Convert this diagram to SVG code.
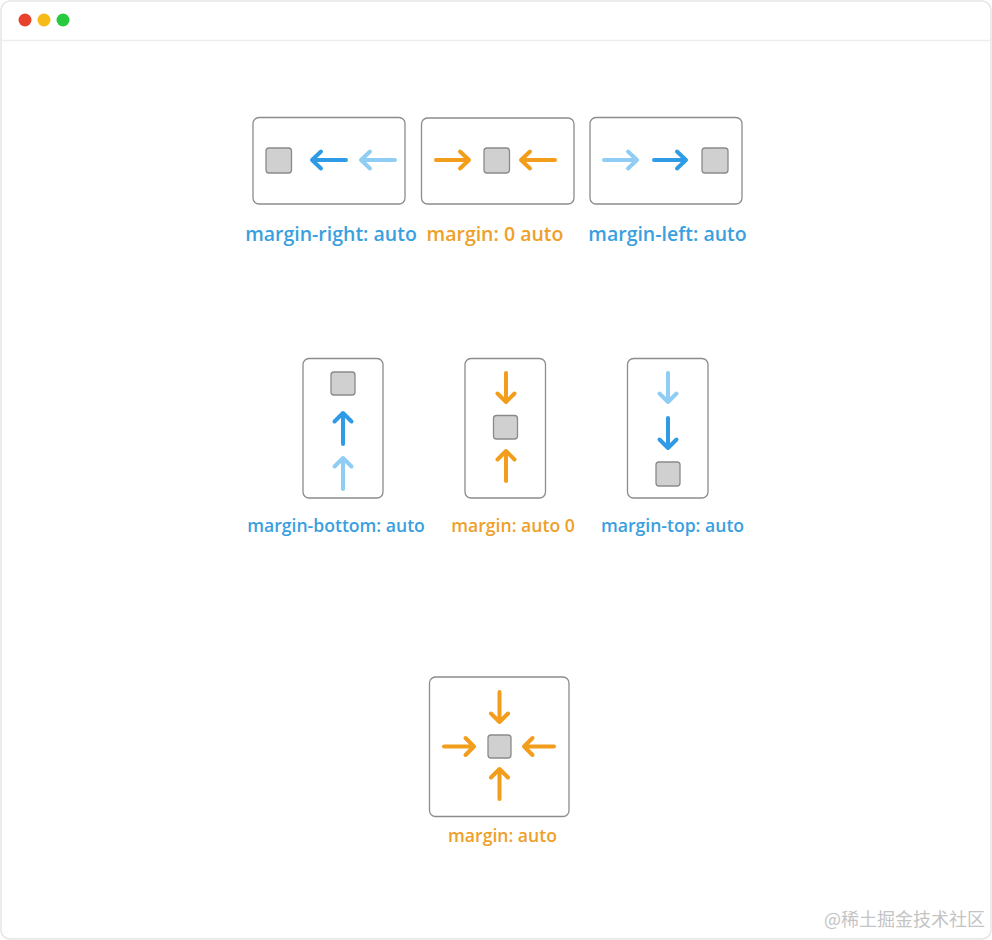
<svg xmlns="http://www.w3.org/2000/svg" width="992" height="940" viewBox="0 0 992 940">
<style>
.frame{fill:#ffffff;stroke:#e6e6e6;stroke-width:1.5}
.box{fill:#ffffff;stroke:#8c8c8c;stroke-width:1.3}
.sq{fill:#d0d0d0;stroke:#8a8a8a;stroke-width:1.3}
.ar{fill:none;stroke-width:4;stroke-linecap:round;stroke-linejoin:round}
.db{stroke:#2f9be6}
.lb{stroke:#8fcdf5}
.or{stroke:#f29d1b}
.lbl{font-family:"Open Sans",Lato,"Liberation Sans",sans-serif;font-size:19.5px;font-weight:600;text-anchor:middle}
.sm{font-size:17.6px}
.tb{fill:#3a9fe0}
.to{fill:#eea029}
</style>
<rect class="frame" x="1" y="1" width="990" height="938" rx="9"/>
<line x1="1.5" y1="40.5" x2="990.5" y2="40.5" stroke="#eeeeee" stroke-width="1.5"/>
<g id="window-dots">
<circle cx="25" cy="20" r="6.5" fill="#e8412c"/>
<circle cx="44" cy="20" r="6.5" fill="#f6bb17"/>
<circle cx="63" cy="20" r="6.5" fill="#27c93f"/>
</g>
<g id="margin-right-auto">
<rect class="box" x="253" y="117.5" width="152" height="86.5" rx="6"/>
<rect class="sq" x="266" y="148" width="25.5" height="25" rx="3"/>
<path class="ar db" d="M346 160H312M321 151.5L312 160L321 168.5"/>
<path class="ar lb" d="M395 160H361M370 151.5L361 160L370 168.5"/>
<text class="lbl tb" x="331" y="241">margin-right: auto</text>
</g>
<g id="margin-0-auto">
<rect class="box" x="421.5" y="118" width="152.5" height="86" rx="6"/>
<path class="ar or" d="M436 160H469M460 151.5L469 160L460 168.5"/>
<rect class="sq" x="484" y="148" width="25.5" height="25" rx="3"/>
<path class="ar or" d="M555 160H521M530 151.5L521 160L530 168.5"/>
<text class="lbl to" x="495" y="241">margin: 0 auto</text>
</g>
<g id="margin-left-auto">
<rect class="box" x="590" y="117.5" width="152" height="86.5" rx="6"/>
<path class="ar lb" d="M604 160H637M628 151.5L637 160L628 168.5"/>
<path class="ar db" d="M654 160H686M677 151.5L686 160L677 168.5"/>
<rect class="sq" x="702" y="148" width="26" height="25" rx="3"/>
<text class="lbl tb" x="667.5" y="241">margin-left: auto</text>
</g>
<g id="margin-bottom-auto">
<rect class="box" x="303" y="358.5" width="80" height="139.5" rx="6"/>
<rect class="sq" x="331" y="372" width="24" height="23" rx="3"/>
<path class="ar db" d="M343 444V413M334.5 421.5L343 413L351.5 421.5"/>
<path class="ar lb" d="M343 489V458M334.5 466.5L343 458L351.5 466.5"/>
<text class="lbl sm tb" x="336" y="532">margin-bottom: auto</text>
</g>
<g id="margin-auto-0">
<rect class="box" x="465" y="358.5" width="80.5" height="139.5" rx="6"/>
<path class="ar or" d="M506 373V402M497.5 393.5L506 402L514.5 393.5"/>
<rect class="sq" x="493.5" y="415.5" width="24" height="23.5" rx="3"/>
<path class="ar or" d="M506 481V451M497.5 459.5L506 451L514.5 459.5"/>
<text class="lbl sm to" x="513" y="532">margin: auto 0</text>
</g>
<g id="margin-top-auto">
<rect class="box" x="627.5" y="358.5" width="80.5" height="139.5" rx="6"/>
<path class="ar lb" d="M668 373V402M659.5 393.5L668 402L676.5 393.5"/>
<path class="ar db" d="M668 418V448M659.5 439.5L668 448L676.5 439.5"/>
<rect class="sq" x="656" y="462" width="24" height="24" rx="3"/>
<text class="lbl sm tb" x="672.5" y="532">margin-top: auto</text>
</g>
<g id="margin-auto">
<rect class="box" x="429.5" y="677" width="139.5" height="139.5" rx="6"/>
<rect class="sq" x="488" y="735" width="23" height="23" rx="3"/>
<path class="ar or" d="M499.5 692V722M491 713.5L499.5 722L508 713.5"/>
<path class="ar or" d="M499.5 799V769M491 777.5L499.5 769L508 777.5"/>
<path class="ar or" d="M444 746.5H474M465.5 738L474 746.5L465.5 755"/>
<path class="ar or" d="M554 746.5H524M532.5 738L524 746.5L532.5 755"/>
<text class="lbl sm to" x="502.5" y="842">margin: auto</text>
</g>
<text x="985" y="926" font-family="'Noto Sans CJK SC',sans-serif" font-size="18" fill="#c4c4c4" text-anchor="end">@稀土掘金技术社区</text>
</svg>
